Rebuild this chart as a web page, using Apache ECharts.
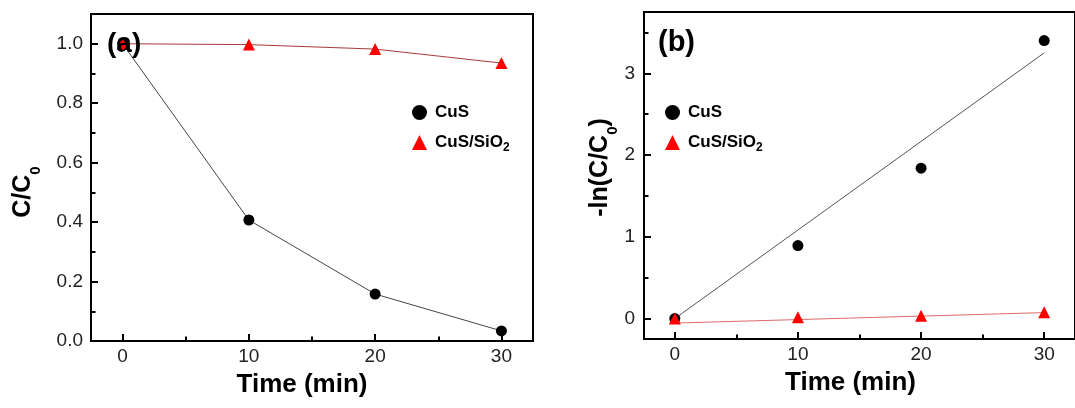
<!DOCTYPE html>
<html>
<head>
<meta charset="utf-8">
<script src="https://cdn.jsdelivr.net/npm/echarts@6/dist/echarts.min.js"></script>
<style>html,body{margin:0;padding:0;background:#fff}#c{width:1075px;height:408px}</style>
</head>
<body>
<div id="c"></div>
<script>
const timeMin = [0, 10, 20, 30];
const cusRatio = [1.0, 0.407, 0.158, 0.034];
const sio2Ratio = [1.0, 0.997, 0.982, 0.935];
const cusLn = [0.0, 0.893, 1.84, 3.40];
const sio2Ln = [0.0, 0.015, 0.035, 0.077];
const fitX = [0, 30];
const cusLnFit = [0.0, 3.25];
const sio2LnFit = [-0.055, 0.073];
const xTicks = [0, 10, 20, 30];
const xMinor = [5, 15, 25];
const leftYTicks = [0, 0.2, 0.4, 0.6, 0.8, 1.0];
const leftYMinor = [0.1, 0.3, 0.5, 0.7, 0.9];
const rightYTicks = [0, 1, 2, 3];
const rightYMinor = [0.5, 1.5, 2.5, 3.5];
const seriesNames = ['CuS', 'CuS/SiO2'];

const FONT = 'Liberation Sans, Arial, sans-serif';
const pairs = (xs, ys) => xs.map((x, i) => [x, ys[i]]);

const tickStyle = { color: '#000', width: 2 };
const noLine = { show: false, onZero: false };
function majorX(grid) {
  return {
    type: 'value', gridIndex: grid, min: -2.5, max: 32.5, position: 'bottom',
    axisLine: noLine, splitLine: { show: false },
    axisTick: { show: true, inside: true, length: 7, lineStyle: tickStyle, customValues: xTicks },
    axisLabel: { show: true, customValues: xTicks, margin: 6, fontFamily: FONT, fontSize: 19, color: '#222' },
    name: 'Time (min)', nameLocation: 'middle', nameGap: 31,
    nameTextStyle: { fontFamily: FONT, fontSize: 26, fontWeight: 'bold', color: '#000', padding: [0, grid === 0 ? 20 : 18, 0, 0] }
  };
}
function minorX(grid) {
  return {
    type: 'value', gridIndex: grid, min: -2.5, max: 32.5, position: 'bottom',
    axisLine: noLine, splitLine: { show: false },
    axisTick: { show: true, inside: true, length: 4.5, lineStyle: tickStyle, customValues: xMinor },
    axisLabel: { show: false }
  };
}
const subRich = {
  t: { fontFamily: FONT, fontSize: 25, fontWeight: 'bold', color: '#000', lineHeight: 40 },
  s: { fontFamily: FONT, fontSize: 15, fontWeight: 'bold', color: '#000', lineHeight: 15, verticalAlign: 'bottom' }
};

const option = {
  animation: false,
  backgroundColor: '#fff',
  grid: [
    { left: 91, top: 14, width: 442, height: 327, show: true, borderColor: '#000', borderWidth: 2, backgroundColor: 'transparent', z: 10 },
    { left: 644, top: 12, width: 440, height: 327, show: true, borderColor: '#000', borderWidth: 2, backgroundColor: 'transparent', z: 10 }
  ],
  xAxis: [majorX(0), minorX(0), majorX(1), minorX(1)],
  yAxis: [
    {
      type: 'value', gridIndex: 0, min: 0, max: 1.1, position: 'left',
      axisLine: noLine, splitLine: { show: false },
      axisTick: { show: true, inside: true, length: 7, lineStyle: tickStyle, customValues: leftYTicks },
      axisLabel: { customValues: leftYTicks, margin: 8, fontFamily: FONT, fontSize: 19, color: '#222', formatter: v => v.toFixed(1) },
      name: '{t|C/C}{s|0}', nameLocation: 'middle', nameGap: 48,
      nameTextStyle: { padding: [0, 29, 0, 0], rich: subRich }
    },
    {
      type: 'value', gridIndex: 0, min: 0, max: 1.1, position: 'left',
      axisLine: noLine, splitLine: { show: false },
      axisTick: { show: true, inside: true, length: 4.5, lineStyle: tickStyle, customValues: leftYMinor },
      axisLabel: { show: false }
    },
    {
      type: 'value', gridIndex: 1, min: -0.25, max: 3.75, position: 'left',
      axisLine: noLine, splitLine: { show: false },
      axisTick: { show: true, inside: true, length: 7, lineStyle: tickStyle, customValues: rightYTicks },
      axisLabel: { customValues: rightYTicks, margin: 9, fontFamily: FONT, fontSize: 19, color: '#222', formatter: v => String(Math.round(v)) },
      name: '{t|-ln(C/C}{s|0}{t|)}', nameLocation: 'middle', nameGap: 24,
      nameTextStyle: { padding: [0, 0, 0, 16], rich: subRich }
    },
    {
      type: 'value', gridIndex: 1, min: -0.25, max: 3.75, position: 'left',
      axisLine: noLine, splitLine: { show: false },
      axisTick: { show: true, inside: true, length: 4.5, lineStyle: tickStyle, customValues: rightYMinor },
      axisLabel: { show: false }
    }
  ],
  legend: [0, 1].map(i => ({
    orient: 'vertical', left: i === 0 ? 412 : 665, top: 104, padding: 0,
    itemWidth: 15, itemHeight: 15, itemGap: 13,
    data: [{ name: seriesNames[0], icon: 'circle' }, { name: seriesNames[1], icon: 'triangle' }],
    formatter: n => n === 'CuS/SiO2' ? '{t|CuS/SiO}{s|2}' : '{t|CuS}',
    textStyle: {
      padding: [0, 0, 0, 3],
      rich: {
        t: { fontFamily: FONT, fontSize: 17, fontWeight: 'bold', color: '#000', lineHeight: 22 },
        s: { fontFamily: FONT, fontSize: 12, fontWeight: 'bold', color: '#000', lineHeight: 13, verticalAlign: 'bottom' }
      }
    },
    selectedMode: false
  })),
  series: [
    {
      name: seriesNames[0], type: 'line', xAxisIndex: 0, yAxisIndex: 0,
      data: pairs(timeMin, cusRatio), symbol: 'circle', symbolSize: 11, showSymbol: true,
      itemStyle: { color: '#000', opacity: 1 }, lineStyle: { color: '#444', width: 1 }, z: 3
    },
    {
      name: seriesNames[1], type: 'line', xAxisIndex: 0, yAxisIndex: 0,
      data: pairs(timeMin, sio2Ratio), symbol: 'triangle', symbolSize: 12, showSymbol: true,
      itemStyle: { color: '#ff0000', opacity: 1 }, lineStyle: { color: '#a83a3a', width: 1 }, z: 4
    },
    {
      name: 'CuS fit', type: 'line', xAxisIndex: 2, yAxisIndex: 2,
      data: pairs(fitX, cusLnFit), showSymbol: false, silent: true,
      lineStyle: { color: '#555', width: 1 }, z: 2
    },
    {
      name: 'CuS/SiO2 fit', type: 'line', xAxisIndex: 2, yAxisIndex: 2,
      data: pairs(fitX, sio2LnFit), showSymbol: false, silent: true,
      lineStyle: { color: '#e06a6a', width: 1 }, z: 2
    },
    {
      name: seriesNames[0], type: 'scatter', xAxisIndex: 2, yAxisIndex: 2,
      data: pairs(timeMin, cusLn), symbol: 'circle', symbolSize: 11,
      itemStyle: { color: '#000', opacity: 1 }, z: 3
    },
    {
      name: seriesNames[1], type: 'scatter', xAxisIndex: 2, yAxisIndex: 2,
      data: pairs(timeMin, sio2Ln), symbol: 'triangle', symbolSize: 12,
      itemStyle: { color: '#ff0000', opacity: 1 }, z: 4
    }
  ],
  graphic: [
    { type: 'text', x: 107, y: 44, z: 100, style: { text: '(a)', font: 'bold 28px ' + FONT, fill: '#000', align: 'left', verticalAlign: 'middle' } },
    { type: 'text', x: 658, y: 43, z: 100, style: { text: '(b)', font: 'bold 29px ' + FONT, fill: '#000', align: 'left', verticalAlign: 'middle' } }
  ]
};
const chart = echarts.init(document.getElementById('c'), null, { renderer: 'canvas' });
chart.setOption(option);
</script>
</body>
</html>
